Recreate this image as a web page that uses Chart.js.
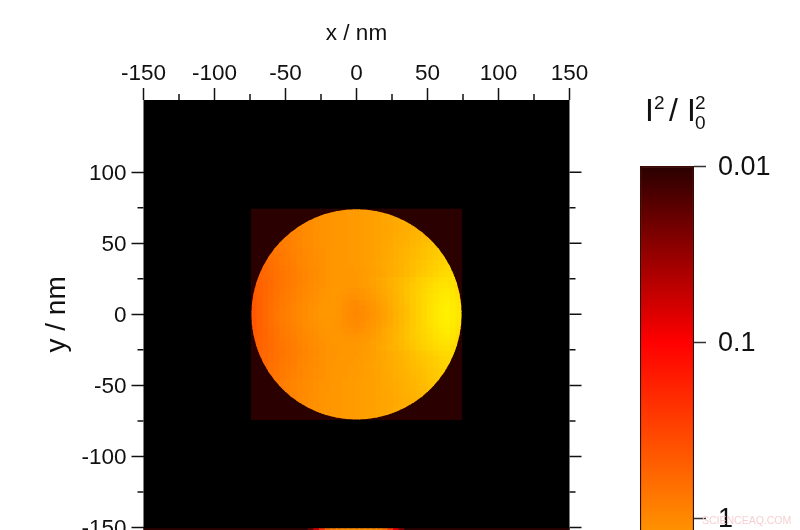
<!DOCTYPE html>
<html>
<head>
<meta charset="utf-8">
<title>I2 / I0 map</title>
<script src="https://cdn.jsdelivr.net/npm/chart.js@4"></script>
<style>
    html, body { margin: 0; padding: 0; width: 800px; height: 530px; overflow: hidden; background: #fff; }
    canvas { position: absolute; top: 0; }
    #mapChart { left: 0; }
    #barChart { left: 600px; }
</style>
</head>
<body>
<canvas id="mapChart" width="800" height="580"></canvas>
<canvas id="barChart" width="200" height="580"></canvas>
<script>
// Axis ticks
const xTicks = [-150, -100, -50, 0, 50, 100, 150];
const xMinorTicks = [-125, -75, -25, 25, 75, 125];
const yTicks = [100, 50, 0, -50, -100, -150];
const yMinorTicks = [75, 25, -25, -75, -125];
const barTicks = [0.01, 0.1, 1];

// Colour scale: log10(I2/I0^2) x 100 -> red / green
const cmapLevels = [-200, -100, 0, 88];
const cmapRed = [42, 255, 255, 255];
const cmapGreen = [0, 0, 136, 255];

// Map cells, 4 nm wide. Values are log10(I2/I0^2) x 100
const xCenters = [-72, -68, -64, -60, -56, -52, -48, -44, -40, -36, -32, -28, -24, -20, -16, -12, -8, -4, 0, 4, 8, 12, 16, 20, 24, 28, 32, 36, 40, 44, 48, 52, 56, 60, 64, 68, 72];
const yCenters = [72, 68, 64, 60, 56, 52, 48, 44, 40, 36, 32, 28, 24, 20, 16, 12, 8, 4, 0, -4, -8, -12, -16, -20, -24, -28, -32, -36, -40, -44, -48, -52, -56, -60, -64, -68, -72];
// each row is centred on x = 0
const mapLevels = [
    [8,9,10,11,12,13,14,15,16,17,19,20,22],
    [4,6,8,9,10,11,12,13,14,15,16,17,19,21,23,25,27],
    [0,2,4,6,8,9,10,11,12,13,14,15,16,18,19,21,23,25,27,29,31],
    [-5,-3,-1,2,4,6,8,9,10,11,12,13,14,15,16,17,19,20,22,24,26,28,30,32,35],
    [-8,-6,-3,-1,2,4,6,8,9,10,11,12,13,14,15,16,17,19,21,23,25,27,29,31,33,36,39],
    [-12,-9,-6,-4,-1,2,4,6,8,9,10,11,12,13,14,15,16,18,19,21,24,26,28,30,33,35,38,41,44],
    [-15,-12,-9,-6,-4,-1,2,4,6,8,9,10,11,12,13,14,15,16,18,20,22,24,27,29,31,34,37,40,43,46,49],
    [-16,-13,-10,-7,-4,-2,1,3,5,7,9,10,11,12,13,14,15,16,18,20,22,25,27,30,33,36,39,42,45,48,51],
    [-20,-17,-14,-11,-8,-5,-2,0,3,5,7,9,10,11,12,13,14,15,16,18,20,23,25,28,31,34,37,40,43,46,49,52,54],
    [-24,-21,-18,-15,-12,-9,-6,-3,0,2,5,7,9,10,11,12,13,14,15,17,19,21,24,26,29,32,35,39,42,45,48,51,54,56,57],
    [-25,-22,-19,-16,-13,-10,-7,-4,-1,2,4,6,8,10,11,12,12,13,14,15,18,20,23,26,29,32,36,39,43,46,50,53,56,59,60],
    [-26,-23,-20,-17,-14,-11,-8,-5,-2,1,4,6,8,10,11,12,12,12,13,15,17,20,23,26,29,33,37,41,45,49,52,56,59,62,62],
    [-31,-27,-24,-21,-17,-14,-11,-8,-5,-2,1,4,6,8,10,11,11,12,12,14,16,19,22,25,29,33,37,41,45,50,54,58,61,64,65,64,60],
    [-32,-28,-25,-21,-17,-14,-10,-7,-4,-1,2,5,7,9,10,11,11,11,11,13,15,18,21,25,29,33,38,42,47,51,56,60,64,67,68,66,62],
    [-33,-28,-25,-20,-16,-13,-9,-6,-3,0,3,5,8,10,11,11,10,9,8,10,13,16,20,24,28,33,38,43,48,53,58,62,66,69,71,69,64],
    [-34,-29,-24,-20,-15,-12,-8,-5,-2,1,4,6,9,10,11,10,8,7,6,8,11,14,18,22,27,32,37,43,48,54,59,64,68,71,73,71,66],
    [-34,-29,-24,-19,-14,-11,-7,-4,-1,2,5,7,10,11,11,10,7,4,3,5,8,12,16,20,26,31,36,42,48,54,59,64,69,73,75,73,68],
    [-35,-29,-24,-18,-14,-10,-6,-3,0,3,6,8,10,12,11,9,6,3,1,3,6,10,14,19,25,30,35,41,47,53,59,65,70,74,76,74,69],
    [-35,-29,-24,-18,-13,-9,-6,-3,0,3,6,9,11,12,11,9,5,2,0,2,5,9,13,18,24,29,35,41,47,53,59,65,71,75,77,75,70],
    [-35,-29,-24,-18,-13,-9,-6,-3,0,3,6,8,10,11,10,8,5,3,1,3,6,10,14,19,24,30,35,41,47,53,59,65,70,74,76,74,69],
    [-35,-29,-24,-19,-14,-10,-7,-4,-1,2,5,7,9,11,10,9,6,4,3,5,8,11,15,20,25,31,36,42,48,54,59,64,69,73,75,73,68],
    [-34,-29,-25,-20,-15,-11,-8,-5,-2,1,4,6,9,10,10,9,7,6,5,7,10,13,17,22,27,32,37,43,48,53,58,63,67,71,73,71,66],
    [-33,-29,-25,-20,-16,-12,-9,-6,-3,0,3,5,8,9,10,10,9,8,8,10,12,15,19,23,28,33,38,43,47,52,57,61,65,68,70,68,63],
    [-32,-28,-25,-21,-17,-13,-10,-7,-4,-1,2,5,7,9,10,10,10,10,11,12,14,17,20,24,28,33,37,42,46,51,55,59,63,66,67,65,61],
    [-31,-27,-24,-21,-17,-14,-11,-8,-5,-2,1,4,6,8,9,10,11,11,12,13,15,18,21,25,29,32,36,40,45,49,53,57,60,63,64,62,58],
    [-26,-23,-20,-17,-14,-11,-8,-5,-2,1,3,6,8,9,10,11,12,12,13,15,17,20,23,26,29,33,36,40,44,48,51,55,58,60,60],
    [-25,-22,-19,-16,-13,-10,-7,-4,-1,1,4,6,8,9,11,12,12,13,14,16,18,20,23,26,29,32,35,39,42,46,49,52,55,57,58],
    [-24,-21,-18,-15,-12,-9,-6,-3,0,2,4,7,8,10,11,12,13,14,15,17,19,21,24,26,29,32,35,38,41,44,47,50,53,55,56],
    [-20,-17,-14,-11,-8,-5,-2,0,3,5,7,9,10,11,12,13,14,15,16,18,20,22,25,27,30,33,36,39,42,45,48,51,53],
    [-16,-13,-10,-7,-4,-2,1,3,5,7,9,10,11,12,13,14,15,16,18,20,22,24,27,29,32,35,38,41,44,47,50],
    [-14,-11,-8,-5,-3,0,2,4,6,8,9,10,12,13,14,15,16,17,18,20,22,24,26,28,31,33,36,39,42,45,47],
    [-11,-8,-5,-3,0,2,4,6,8,9,11,12,13,14,15,16,17,18,20,22,24,26,28,30,32,35,37,40,43],
    [-7,-5,-2,0,3,5,7,8,10,11,12,13,14,15,16,17,18,20,21,23,25,27,29,31,33,35,38],
    [-4,-2,1,3,5,7,9,10,11,12,13,14,15,16,17,18,19,21,22,24,26,28,30,32,34],
    [1,3,5,7,9,10,11,12,13,14,15,16,17,18,20,21,23,25,27,29,31],
    [5,7,9,10,11,12,13,14,15,16,17,18,20,21,23,25,27],
    [9,10,11,12,13,14,15,16,17,18,20,21,23]
];

// Bright disc of radius 74 nm inside a dark 148 nm square
const discRadius = 74;
const squareSide = 148;
const squareLevel = -200;
const cellSize = 4;

// Top edge of the next panel, cut off by the bottom of the picture
const stripY = -153;
const stripX = [-148, -144, -140, -136, -132, -128, -124, -120, -116, -112, -108, -104, -100, -96, -92, -88, -84, -80, -76, -72, -68, -64, -60, -56, -52, -48, -44, -40, -36, -32, -28, -24, -20, -16, -12, -8, -4, 0, 4, 8, 12, 16, 20, 24, 28, 32, 36, 40, 44, 48, 52, 56, 60, 64, 68, 72, 76, 80, 84, 88, 92, 96, 100, 104, 108, 112, 116, 120, 124, 128, 132, 136, 140, 144, 148];
const stripLevels = [-200, -200, -200, -200, -200, -200, -200, -200, -200, -200, -200, -200, -200, -200, -200, -200, -200, -200, -200, -200, -200, -200, -200, -200, -200, -200, -200, -200, -200, -170, -120, -60, -20, -5, 0, 3, 4, 5, 4, 3, 2, 0, -15, -55, -110, -160, -200, -200, -200, -200, -200, -200, -200, -200, -200, -200, -200, -200, -200, -200, -200, -200, -200, -200, -200, -200, -200, -200, -200, -200, -200, -200, -200, -200, -200];

const inkColor = '#111';
const fontName = '"Liberation Sans", Arial, sans-serif';

function levelColor(level) {
    let i = 0;
    while (i < cmapLevels.length - 2 && level > cmapLevels[i + 1]) i++;
    let t = (level - cmapLevels[i]) / (cmapLevels[i + 1] - cmapLevels[i]);
    t = Math.max(0, Math.min(1, t));
    let r = Math.round(cmapRed[i] + t * (cmapRed[i + 1] - cmapRed[i]));
    let g = Math.round(cmapGreen[i] + t * (cmapGreen[i + 1] - cmapGreen[i]));
    return `rgb(${r}, ${g}, 0)`;
}

// pointStyle rect has a side of radius * sqrt(2)
function rectRadius(chart, size) {
    let x = chart.scales.x;
    let side = Math.abs(x.getPixelForValue(size) - x.getPixelForValue(0));
    return (side + 1) * Math.SQRT1_2;
}

let discCells = [];
let discColors = [];
mapLevels.forEach((row, r) => {
    let first = (xCenters.length - row.length) / 2;
    row.forEach((level, c) => {
        discCells.push({ x: xCenters[first + c], y: yCenters[r] });
        discColors.push(levelColor(level));
    });
});

function fixTicks(list) {
    return scale => { scale.ticks = list.map(v => ({ value: v })); };
}

// keep the plot area where it is, whatever the tick labels want
function fixSize(width, height) {
    return scale => {
        if (width) scale.width = width;
        if (height) scale.height = height;
        scale.paddingLeft = scale.paddingRight = scale.paddingTop = scale.paddingBottom = 0;
    };
}

const mapPlugin = {
    id: 'mapPlugin',
    beforeDatasetsDraw(chart) {
        let a = chart.chartArea;
        chart.ctx.fillStyle = '#000';
        chart.ctx.fillRect(a.left, a.top, a.right - a.left, a.bottom - a.top);
    },
    // the disc cells are cut to the circle
    beforeDatasetDraw(chart, args) {
        if (args.index !== 0) return;
        let { x, y } = chart.scales;
        let ctx = chart.ctx;
        ctx.save();
        ctx.beginPath();
        ctx.arc(x.getPixelForValue(0), y.getPixelForValue(0), Math.abs(x.getPixelForValue(discRadius) - x.getPixelForValue(0)), 0, Math.PI * 2);
        ctx.clip();
    },
    afterDatasetDraw(chart, args) {
        if (args.index === 0) chart.ctx.restore();
    },
    afterDraw(chart) {
        let { x, y } = chart.scales;
        let a = chart.chartArea;
        let ctx = chart.ctx;
        ctx.save();
        ctx.strokeStyle = inkColor;
        ctx.lineWidth = 1.5;
        ctx.beginPath();
        xMinorTicks.forEach(v => {
            let px = x.getPixelForValue(v);
            ctx.moveTo(px, a.top);
            ctx.lineTo(px, a.top - 6);
        });
        yMinorTicks.forEach(v => {
            let py = y.getPixelForValue(v);
            ctx.moveTo(a.left, py);
            ctx.lineTo(a.left - 6, py);
            ctx.moveTo(a.right, py);
            ctx.lineTo(a.right + 6, py);
        });
        yTicks.forEach(v => {
            let py = y.getPixelForValue(v);
            ctx.moveTo(a.right, py);
            ctx.lineTo(a.right + 12, py);
        });
        ctx.stroke();
        // y title sits on y = 0, not on the middle of the cut off plot
        ctx.translate(57, y.getPixelForValue(0));
        ctx.rotate(-Math.PI / 2);
        ctx.fillStyle = inkColor;
        ctx.font = '28px ' + fontName;
        ctx.textAlign = 'center';
        ctx.textBaseline = 'middle';
        ctx.fillText('y / nm', 0, 0);
        ctx.restore();
    }
};

new Chart(document.getElementById('mapChart'), {
    type: 'scatter',
    data: {
        datasets: [
            {
                data: discCells,
                pointStyle: 'rect',
                pointBackgroundColor: discColors,
                pointBorderWidth: 0,
                pointRadius: ctx => rectRadius(ctx.chart, cellSize)
            },
            {
                data: [{ x: 0, y: 0 }],
                pointStyle: 'rect',
                pointBackgroundColor: levelColor(squareLevel),
                pointBorderWidth: 0,
                pointRadius: ctx => rectRadius(ctx.chart, squareSide)
            },
            {
                data: stripX.map(x => ({ x: x, y: stripY })),
                pointStyle: 'rect',
                pointBackgroundColor: stripLevels.map(levelColor),
                pointBorderWidth: 0,
                pointRadius: ctx => rectRadius(ctx.chart, cellSize)
            }
        ]
    },
    options: {
        responsive: false,
        animation: false,
        layout: { padding: { left: 0, top: 0, right: 230.5, bottom: 0 } },
        plugins: { legend: { display: false }, tooltip: { enabled: false } },
        scales: {
            x: {
                type: 'linear',
                position: 'top',
                min: -150,
                max: 150,
                afterBuildTicks: fixTicks(xTicks),
                afterFit: fixSize(0, 100),
                border: { display: false },
                grid: { drawOnChartArea: false, tickLength: 12, tickWidth: 1.5, tickColor: inkColor },
                ticks: { color: inkColor, padding: 1, maxRotation: 0, font: { family: fontName, size: 22.5 }, callback: v => String(v) },
                title: { display: true, text: 'x / nm', color: inkColor, padding: { top: 20, bottom: 0 }, font: { family: fontName, size: 22.5 } }
            },
            y: {
                type: 'linear',
                position: 'left',
                min: -187,
                max: 150.9,
                afterBuildTicks: fixTicks(yTicks),
                afterFit: fixSize(143.5, 0),
                border: { display: false },
                grid: { drawOnChartArea: false, tickLength: 12, tickWidth: 1.5, tickColor: inkColor },
                ticks: { color: inkColor, padding: 5, labelOffset: 1, font: { family: fontName, size: 22.5 }, callback: v => String(v) }
            }
        }
    },
    plugins: [mapPlugin]
});

// Colour bar
const barMin = 0.01;
const barMax = 2.25;
const barLabels = ['I2/I0'];
const barRange = [[barMin, barMax]];

function barGradient(ctx) {
    let chart = ctx.chart;
    if (!chart.chartArea) return levelColor(0);
    let y = chart.scales.y;
    let pixelOf = level => y.getPixelForValue(Math.pow(10, level / 100));
    let first = pixelOf(cmapLevels[0]);
    let last = pixelOf(cmapLevels[cmapLevels.length - 1]);
    let grad = chart.ctx.createLinearGradient(0, first, 0, last);
    cmapLevels.forEach(level => {
        grad.addColorStop((pixelOf(level) - first) / (last - first), levelColor(level));
    });
    return grad;
}

const barTextPlugin = {
    id: 'barTextPlugin',
    afterDraw(chart) {
        let ctx = chart.ctx;
        ctx.save();
        ctx.fillStyle = inkColor;
        ctx.textBaseline = 'alphabetic';
        ctx.font = '32px ' + fontName;
        ctx.fillText('I', 45, 121);
        ctx.fillText('/', 69, 121);
        ctx.fillText('I', 87, 121);
        ctx.font = '19px ' + fontName;
        ctx.fillText('2', 54, 109);
        ctx.fillText('2', 95, 109);
        ctx.fillText('0', 95, 129);
        ctx.fillStyle = '#f6cfd4';
        ctx.font = '10.5px ' + fontName;
        ctx.fillText('SCIENCEAQ.COM', 102, 524);
        ctx.restore();
    }
};

new Chart(document.getElementById('barChart'), {
    type: 'bar',
    data: {
        labels: barLabels,
        datasets: [{
            data: barRange,
            backgroundColor: barGradient,
            borderColor: '#3a0a00',
            borderWidth: 1.5,
            borderSkipped: false,
            barPercentage: 1,
            categoryPercentage: 1
        }]
    },
    options: {
        responsive: false,
        animation: false,
        layout: { padding: { left: 40, top: 166, right: 0, bottom: 0 } },
        plugins: { legend: { display: false }, tooltip: { enabled: false } },
        scales: {
            x: { display: false },
            y: {
                type: 'logarithmic',
                position: 'right',
                reverse: true,
                min: barMin,
                max: barMax,
                afterBuildTicks: fixTicks(barTicks),
                afterFit: fixSize(106, 0),
                border: { display: false },
                grid: { drawOnChartArea: false, tickLength: 12, tickWidth: 1.5, tickColor: '#333' },
                ticks: { color: inkColor, padding: 12, labelOffset: 1.5, font: { family: fontName, size: 27 }, callback: v => String(v) }
            }
        }
    },
    plugins: [barTextPlugin]
});
</script>
</body>
</html>
